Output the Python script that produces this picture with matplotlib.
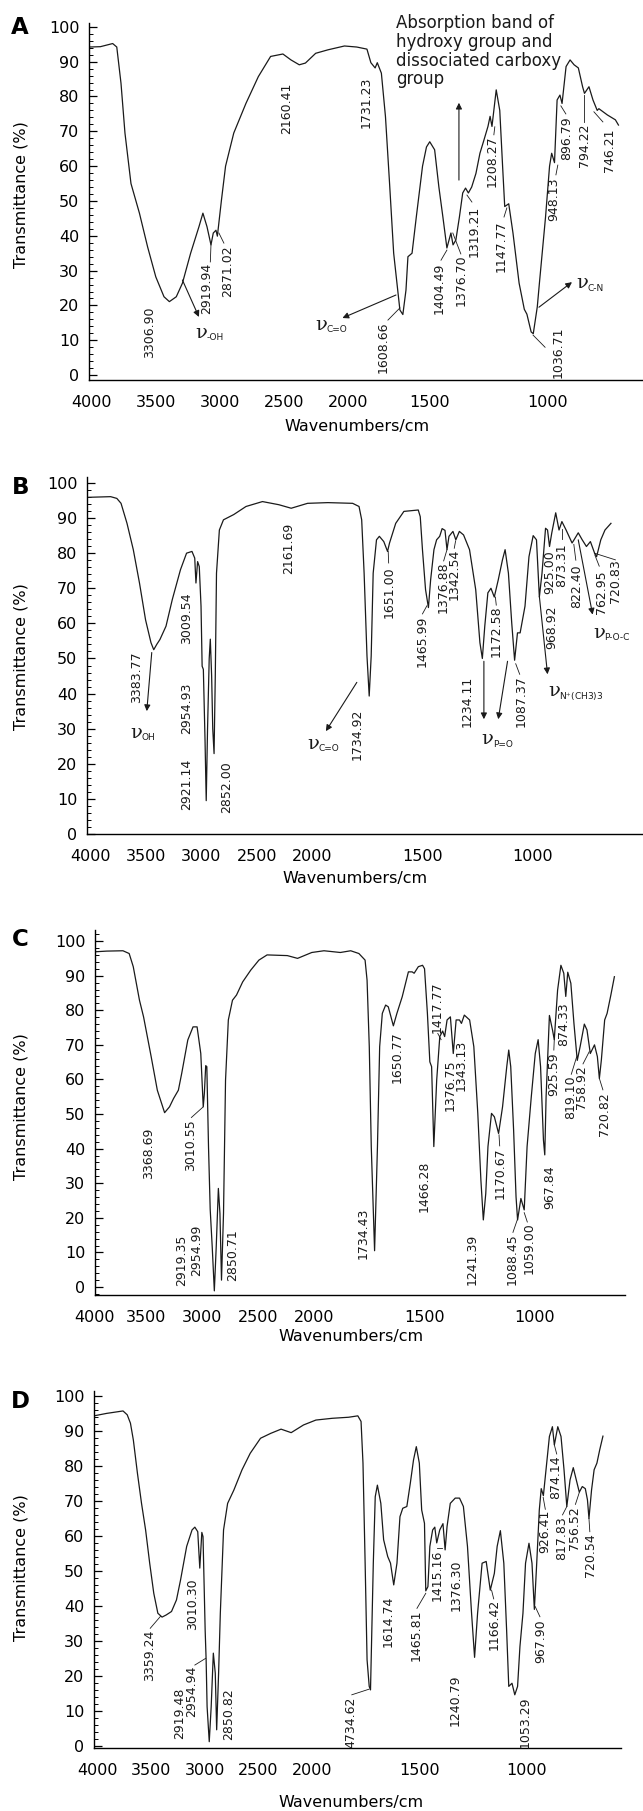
import numpy as np
import matplotlib.pyplot as plt
from matplotlib.ticker import MultipleLocator

plt.rcParams['font.family'] = ['DejaVu Sans']
plt.rcParams['mathtext.fontset'] = 'stix'

W, H = 643, 1811
TICK_WN = [4000, 3500, 3000, 2500, 2000, 1500, 1000]

# ---------------- spectra (wavenumber, transmittance %) ----------------
a_wn = [4023, 3934, 3838, 3806, 3773, 3742, 3695, 3629, 3565, 3501, 3437, 3395, 3341, 3293,
        3229, 3164, 3133, 3101, 3070, 3052, 3031, 3020, 2988, 2956, 2892, 2797, 2700, 2604,
        2508, 2445, 2380, 2332, 2252, 2156, 2027, 1946, 1884, 1860, 1834, 1821, 1796, 1771,
        1746, 1721, 1701, 1683, 1665, 1646, 1634, 1609, 1583, 1545, 1521, 1501, 1480, 1462,
        1445, 1428, 1411, 1402, 1390, 1375, 1361, 1349, 1337, 1323, 1305, 1288, 1271, 1254,
        1245, 1237, 1219, 1204, 1192, 1183, 1166, 1148, 1122, 1100, 1089, 1071, 1062, 1045,
        1036, 1010, 993, 984, 972, 961, 949, 940, 923, 906, 889, 871, 853, 845, 826, 809,
        791, 784, 748, 714, 701]
a_t = [94.2, 94.3, 95.2, 94.2, 83.8, 69.5, 55.0, 46.5, 36.8, 28.2, 22.5, 21.1, 22.5, 26.4,
       35.0, 42.6, 46.5, 42.6, 37.4, 40.8, 41.6, 39.9, 50.3, 60.0, 69.5, 78.0, 85.7, 91.5,
       92.2, 90.5, 89.1, 89.6, 92.4, 93.4, 94.5, 94.2, 93.6, 89.7, 88.2, 89.7, 86.7, 74.2,
       55.0, 35.0, 26.4, 18.7, 17.4, 24.4, 34.0, 35.0, 45.4, 60.0, 65.5, 67.0, 64.7, 54.0,
       45.4, 36.5, 40.8, 37.4, 38.8, 45.4, 52.3, 53.7, 52.3, 54.0, 57.9, 63.7, 67.5, 71.4,
       74.3, 71.4, 81.9, 76.0, 60.0, 48.4, 49.2, 40.8, 26.4, 18.9, 17.5, 12.4, 11.9, 19.6,
       26.4, 45.4, 60.0, 63.7, 61.0, 79.0, 80.4, 78.0, 88.6, 90.5, 89.1, 88.2, 82.8, 80.9,
       82.8, 79.0, 76.0, 76.5, 74.7, 73.3, 71.8]

b_wn = [4036, 3822, 3766, 3728, 3674, 3617, 3561, 3506, 3457, 3432, 3405, 3376, 3321, 3264,
        3190, 3135, 3086, 3061, 3050, 3035, 3020, 3004, 2994, 2983, 2968, 2957, 2945, 2930,
        2920, 2908, 2898, 2886, 2875, 2864, 2838, 2801, 2708, 2597, 2448, 2299, 2188, 2040,
        1928, 1816, 1787, 1775, 1764, 1751, 1741, 1732, 1723, 1708, 1695, 1675, 1658, 1649,
        1621, 1584, 1519, 1510, 1500, 1486, 1473, 1463, 1448, 1436, 1422, 1411, 1398, 1389,
        1380, 1362, 1349, 1333, 1314, 1287, 1259, 1240, 1229, 1218, 1204, 1190, 1175, 1157,
        1138, 1126, 1111, 1096, 1083, 1070, 1058, 1036, 1018, 999, 984, 971, 959, 943, 934,
        925, 915, 897, 882, 869, 850, 823, 814, 795, 777, 758, 740, 721, 712, 693, 674, 647]
b_t = [95.9, 96.1, 95.6, 94.2, 88.5, 81.0, 71.5, 61.0, 54.5, 52.5, 54.0, 55.4, 59.2, 66.8,
       75.3, 80.0, 80.5, 78.6, 71.5, 77.6, 76.2, 64.9, 47.8, 46.9, 27.0, 9.5, 30.0, 50.0,
       55.5, 45.0, 30.0, 22.9, 45.0, 74.3, 86.6, 89.5, 91.0, 93.3, 94.7, 93.8, 92.8, 94.2,
       94.4, 94.2, 93.3, 89.5, 74.3, 50.7, 39.3, 50.7, 74.3, 83.8, 84.8, 83.3, 80.5, 82.9,
       88.5, 91.9, 92.3, 90.4, 81.0, 69.6, 64.5, 72.4, 81.0, 83.8, 84.8, 87.0, 86.5, 81.0,
       84.8, 86.2, 83.8, 86.2, 85.2, 81.0, 69.6, 54.5, 50.0, 59.2, 68.7, 70.0, 67.5, 72.4,
       78.1, 81.0, 74.3, 60.1, 49.5, 57.3, 57.3, 64.9, 79.0, 85.0, 83.8, 67.5, 74.3, 87.1,
       86.6, 81.9, 85.7, 91.5, 86.6, 89.0, 86.6, 82.9, 83.8, 85.8, 83.8, 81.9, 83.3, 80.0,
       79.0, 83.8, 86.6, 88.5]

c_wn = [4000, 3886, 3726, 3665, 3625, 3564, 3524, 3454, 3399, 3334, 3290, 3254, 3211, 3181,
        3127, 3080, 3044, 3011, 2989, 2979, 2967, 2957, 2942, 2927, 2909, 2890, 2873, 2854,
        2840, 2826, 2808, 2790, 2765, 2728, 2692, 2637, 2565, 2492, 2419, 2238, 2147, 2020,
        1955, 1881, 1834, 1797, 1769, 1760, 1750, 1741, 1732, 1726, 1713, 1703, 1691, 1676,
        1664, 1641, 1625, 1601, 1573, 1556, 1547, 1528, 1509, 1500, 1487, 1476, 1468, 1458,
        1445, 1431, 1418, 1409, 1398, 1383, 1370, 1357, 1342, 1333, 1320, 1296, 1277, 1259,
        1245, 1234, 1223, 1213, 1197, 1184, 1165, 1147, 1128, 1119, 1110, 1097, 1086, 1079,
        1064, 1049, 1036, 1017, 999, 986, 975, 962, 956, 950, 935, 921, 913, 898, 883, 870,
        861, 852, 838, 824, 809, 796, 777, 765, 750, 731, 718, 709, 700, 685, 674, 657, 641]
c_t = [96.9, 97.1, 97.2, 96.4, 92.6, 82.9, 78.1, 66.6, 56.9, 50.4, 52.1, 54.5, 56.9, 61.8,
       71.4, 75.2, 75.2, 67.5, 52.1, 56.0, 64.0, 63.7, 40.6, 22.5, 11.7, -1.1, 11.7, 28.5,
       21.3, 2.0, 21.3, 59.8, 77.2, 82.9, 84.4, 88.2, 91.6, 94.5, 96.0, 95.8, 95.0, 96.7,
       97.2, 96.7, 97.2, 96.4, 94.5, 88.7, 69.5, 40.6, 22.3, 10.5, 40.6, 69.5, 79.1, 81.5,
       81.0, 75.5, 79.1, 83.9, 91.1, 91.1, 90.7, 92.6, 93.0, 92.0, 79.1, 65.1, 63.7, 40.6,
       59.8, 72.4, 74.0, 72.4, 77.2, 78.1, 67.5, 77.2, 77.2, 76.2, 78.6, 77.2, 69.5, 50.2,
       30.9, 19.4, 27.0, 40.6, 50.2, 49.2, 44.4, 52.1, 63.7, 68.5, 63.7, 45.4, 26.1, 19.4,
       25.6, 22.3, 40.6, 55.0, 67.5, 71.5, 63.7, 42.5, 38.2, 55.0, 78.5, 74.3, 71.5, 85.8,
       93.0, 90.7, 84.0, 91.0, 87.8, 76.2, 65.5, 69.5, 76.0, 74.3, 67.5, 70.0, 66.6, 60.3,
       65.6, 77.2, 79.1, 84.4, 89.7]

d_wn = [4028, 3911, 3758, 3719, 3689, 3662, 3624, 3586, 3548, 3510, 3472, 3434, 3395, 3357,
        3307, 3261, 3223, 3166, 3116, 3090, 3063, 3044, 3025, 3014, 2994, 2985, 2976, 2956,
        2938, 2918, 2900, 2887, 2869, 2853, 2823, 2785, 2727, 2651, 2575, 2479, 2384, 2288,
        2194, 2079, 1982, 1906, 1830, 1787, 1772, 1763, 1753, 1744, 1734, 1728, 1715, 1706,
        1696, 1680, 1667, 1648, 1635, 1620, 1605, 1591, 1578, 1559, 1543, 1528, 1515, 1501,
        1490, 1477, 1471, 1461, 1452, 1439, 1429, 1420, 1406, 1391, 1381, 1372, 1357, 1334,
        1314, 1296, 1277, 1258, 1244, 1230, 1209, 1190, 1171, 1152, 1139, 1124, 1108, 1095,
        1085, 1070, 1057, 1044, 1033, 1019, 1007, 991, 977, 966, 955, 943, 934, 924, 915,
        896, 882, 873, 857, 842, 828, 815, 800, 785, 771, 757, 743, 729, 719, 712, 700, 688,
        675, 662, 647]
d_t = [94.3, 95.0, 95.7, 94.6, 92.2, 87.4, 77.9, 69.3, 61.7, 52.2, 43.6, 37.9, 36.8, 37.4,
       38.4, 41.7, 47.4, 57.0, 61.7, 62.5, 61.2, 50.8, 61.0, 59.8, 33.0, 24.6, 11.2, 1.2,
       11.2, 26.5, 20.8, 4.6, 20.8, 37.9, 61.7, 69.3, 73.1, 78.9, 83.6, 87.9, 89.3, 90.5,
       89.5, 91.7, 93.1, 93.6, 93.9, 94.3, 92.7, 80.8, 52.2, 24.6, 17.0, 16.0, 52.2, 71.2,
       74.5, 69.3, 58.9, 54.1, 52.2, 46.0, 52.2, 65.5, 67.9, 68.4, 75.0, 81.7, 85.5, 80.8,
       67.4, 63.6, 44.3, 45.5, 57.0, 61.7, 62.5, 58.0, 61.7, 63.5, 56.0, 62.7, 69.3, 70.8,
       70.8, 68.4, 57.0, 37.9, 25.3, 37.9, 52.2, 52.7, 44.5, 49.3, 57.0, 61.5, 52.2, 33.1,
       17.0, 17.9, 14.6, 17.0, 28.4, 37.9, 52.2, 57.9, 52.2, 39.0, 52.2, 67.4, 73.5, 71.5,
       77.0, 88.4, 91.2, 86.0, 91.2, 88.4, 78.9, 68.4, 76.0, 79.5, 76.0, 72.5, 74.1, 73.5,
       70.3, 65.0, 73.1, 78.9, 80.8, 84.6, 88.5]

# ---------------- peak labels: (text, wavenumber, transmittance) ----------------
a_peaks = [('3306.90', 3547, 12.4), ('2919.94', 3102, 25.0), ('2871.02', 2938, 29.9),
           ('2160.41', 2477, 76.7), ('1731.23', 1890, 78.2), ('1608.66', 1783, 8.0),
           ('1404.49', 1462, 25.0), ('1376.70', 1369, 27.3), ('1319.21', 1314, 41.4),
           ('1208.27', 1237, 61.5), ('1147.77', 1199, 37.0), ('1036.71', 957, 6.6),
           ('948.13', 975, 50.6), ('896.79', 920, 68.1), ('794.22', 843, 66.1),
           ('746.21', 737, 64.7)]
b_peaks = [('2161.69', 2208, 81.5), ('3383.77', 3587, 44.6), ('3009.54', 3135, 61.4),
           ('2954.93', 3135, 35.8), ('2921.14', 3135, 14.2), ('2852.00', 2771, 13.4),
           ('1734.92', 1797, 28.4), ('1651.00', 1649, 69.0), ('1465.99', 1500, 54.8),
           ('1376.88', 1404, 70.2), ('1342.54', 1356, 73.9), ('1234.11', 1296, 37.8),
           ('1172.58', 1166, 57.7), ('1087.37', 1055, 37.8), ('968.92', 915, 58.8),
           ('925.00', 925, 74.7), ('873.31', 869, 76.7), ('822.40', 804, 70.5),
           ('762.95', 692, 68.8), ('720.83', 628, 71.9)]
c_peaks = [('3368.69', 3480, 38.6), ('3010.55', 3102, 41.0), ('2919.35', 3181, 7.6),
           ('2954.99', 3044, 10.7), ('2850.71', 2728, 9.2), ('1734.43', 1779, 15.5),
           ('1650.77', 1623, 66.6), ('1417.77', 1445, 81.0), ('1466.28', 1500, 29.2),
           ('1376.75', 1383, 58.4), ('1343.13', 1333, 64.2), ('1241.39', 1286, 8.0),
           ('1170.67', 1160, 33.0), ('1088.45', 1105, 8.0), ('1059.00', 1027, 11.2),
           ('967.84', 935, 28.8), ('925.59', 917, 61.6), ('874.33', 870, 76.0),
           ('819.10', 841, 54.8), ('758.92', 789, 57.7), ('720.82', 685, 50.0)]
d_peaks = [('3359.24', 3510, 26.0), ('3010.30', 3109, 40.6), ('2919.48', 3231, 9.3),
           ('2954.94', 3116, 15.5), ('2850.82', 2773, 9.1), ('1614.74', 1648, 35.5),
           ('4734.62', 1820, 6.7), ('1465.81', 1515, 31.7), ('1415.16', 1420, 48.6),
           ('1376.30', 1328, 46.0), ('1240.79', 1334, 13.1), ('1166.42', 1152, 34.6),
           ('1053.29', 1009, 6.7), ('967.90', 937, 30.0), ('926.41', 918, 61.2),
           ('874.14', 866, 76.8), ('817.83', 838, 59.3), ('756.52', 780, 62.2),
           ('720.54', 704, 54.6)]

# leader lines ((wn1, t1), (wn2, t2))
a_leaders = [((3075, 32.5), (3070, 37.4)), ((2969, 37.9), (3008, 40.8)),
             ((1756, 15.8), (1683, 19.3)), ((1453, 33.0), (1428, 35.9)),
             ((1369, 34.8), (1403, 40.8)), ((1322, 49.7), (1343, 51.7)),
             ((1229, 69.0), (1225, 71.3)), ((1186, 45.4), (1174, 48.0)),
             ((1012, 8.0), (1063, 11.5)), ((966, 57.5), (958, 60.3)),
             ((924, 75.0), (945, 77.3)), ((848, 72.7), (848, 80.5)),
             ((767, 72.7), (805, 75.6))]
b_leaders = [((1653, 77.2), (1655, 80.5)), ((1500, 62.7), (1480, 65.0)),
             ((1404, 77.8), (1389, 81.0)), ((1356, 81.4), (1350, 83.5)),
             ((1166, 65.2), (1170, 67.5)), ((1060, 45.5), (1078, 48.5)),
             ((869, 84.0), (869, 87.0)), ((806, 78.0), (815, 82.5)),
             ((700, 76.3), (720, 79.5)), ((722, 80.0), (627, 78.1))]
c_leaders = [((3095, 49.0), (2992, 52.0)), ((1440, 73.3), (1425, 71.5)),
             ((1160, 40.8), (1163, 44.0)), ((1100, 15.8), (1080, 19.5)),
             ((1035, 18.8), (1049, 21.5)), ((915, 68.5), (913, 71.5)),
             ((836, 61.5), (812, 66.5)), ((783, 64.5), (755, 68.0)),
             ((693, 57.0), (709, 60.3))]
d_leaders = [((3505, 33.6), (3410, 37.0)), ((3090, 23.1), (2990, 25.0)),
             ((1815, 14.6), (1735, 16.2)), ((1512, 39.3), (1471, 43.6)),
             ((1420, 56.5), (1395, 56.5)), ((1155, 42.0), (1165, 44.5)),
             ((940, 36.9), (962, 39.8)), ((915, 67.6), (925, 71.0)),
             ((835, 66.0), (815, 68.4)), ((862, 83.4), (873, 86.0)),
             ((775, 69.0), (757, 72.4)), ((708, 61.2), (712, 65.0))]

# arrows (tail, head) and band labels (subscript, wn, t, anchor)
a_arrows = [((3293, 27.3), (3164, 16.7)), ((1707, 23.0), (2043, 16.4)),
            ((1038, 19.5), (898, 26.7)), ((1377, 56.0), (1377, 78.2))]
a_bands = [('-OH', 3094, 12.1, 'center'), ('C=O', 2156, 14.4, 'center'),
           ('C-N', 826, 26.4, 'center')]
b_arrows = [((3450, 51.7), (3495, 35.0)), ((1797, 43.2), (1937, 29.3)),
            ((1222, 49.2), (1222, 32.7)), ((1115, 49.2), (1157, 32.7)),
            ((971, 67.7), (934, 45.5)), ((795, 83.8), (730, 62.5))]
b_bands = [('OH', 3533, 28.9, 'center'), ('C=O', 1964, 25.6, 'center'),
           ('P=O', 1176, 27.0, 'center'), ('N$^{+}$(CH3)3', 932, 40.6, 'left'),
           ('P-O-C', 670, 57.4, 'center')]

a_note = 'Absorption band of\nhydroxy group and\ndissociated carboxy\ngroup'

# ---------------- layout (pixel boxes, tick pixel positions) ----------------
panels = [
    dict(letter='A', wn=a_wn, t=a_t, peaks=a_peaks, leaders=a_leaders, arrows=a_arrows,
         bands=a_bands, px=[92, 156, 220, 284, 348, 430, 548], xlim=(4023, 597),
         ylim=(-1.4, 101.1), box=(89, 23, 643, 380), letter_xy=(19.5, 27),
         ylab_y=195, xlab=(357, 427)),
    dict(letter='B', wn=b_wn, t=b_t, peaks=b_peaks, leaders=b_leaders, arrows=b_arrows,
         bands=b_bands, px=[91, 146.25, 201.5, 256.75, 312, 422.5, 533], xlim=(4036, 502),
         ylim=(0.3, 101.7), box=(87, 477, 643, 834), letter_xy=(20.5, 487),
         ylab_y=657, xlab=(355, 879)),
    dict(letter='C', wn=c_wn, t=c_t, peaks=c_peaks, leaders=c_leaders, arrows=[],
         bands=[], px=[95, 146, 202, 258, 314, 424.5, 535], xlim=(4000, 593),
         ylim=(-2.3, 103.2), box=(95, 930, 625, 1295), letter_xy=(20, 940),
         ylab_y=1107, xlab=(351, 1337)),
    dict(letter='D', wn=d_wn, t=d_t, peaks=d_peaks, leaders=d_leaders, arrows=[],
         bands=[], px=[97, 150.75, 204.5, 258.25, 312, 419.5, 527], xlim=(4028, 563),
         ylim=(-0.6, 101.4), box=(94, 1391, 621, 1748), letter_xy=(20, 1401),
         ylab_y=1568, xlab=(351, 1802)),
]


def wn_scale(tick_px):
    w = np.r_[6000, TICK_WN, 0].astype(float)
    p = np.asarray(tick_px, float)
    p = np.r_[p[0] - (p[1] - p[0]) * 4, p, p[-1] + (p[-1] - p[-2]) * 2]

    def fwd(x):
        return -np.interp(-np.asarray(x, float), -w, p)

    def inv(u):
        return np.interp(-np.asarray(u, float), p, w)
    return fwd, inv


fig = plt.figure(figsize=(W / 100, H / 100), dpi=100)
ink = '#1a1a1a'

for pn in panels:
    x0, y0, x1, y1 = pn['box']
    ax = fig.add_axes([x0 / W, 1 - y1 / H, (x1 - x0) / W, (y1 - y0) / H])
    ax.set_xscale('function', functions=wn_scale(pn['px']))
    ax.plot(pn['wn'], pn['t'], color=ink, lw=0.9)
    ax.set_xlim(*pn['xlim'])
    ax.set_ylim(*pn['ylim'])
    ax.set_xticks(TICK_WN)
    ax.set_xticklabels([str(v) for v in TICK_WN])
    ax.set_yticks(range(0, 101, 10))
    ax.yaxis.set_minor_locator(MultipleLocator(2))
    ax.tick_params(axis='x', length=0, pad=11, labelsize=11.5)
    ax.tick_params(axis='y', which='major', direction='in', length=6, width=0.9,
                   pad=7, labelsize=11.5)
    ax.tick_params(axis='y', which='minor', direction='in', length=3, width=0.7)
    for s in ('top', 'right'):
        ax.spines[s].set_visible(False)
    for s in ('left', 'bottom'):
        ax.spines[s].set_linewidth(1.0)
    ax.patch.set_alpha(0)

    for txt, w, t in pn['peaks']:
        ax.text(w, t, txt, rotation=90, ha='center', va='center', fontsize=9,
                color=ink, clip_on=False)
    for (w1, t1), (w2, t2) in pn['leaders']:
        ax.plot([w1, w2], [t1, t2], color=ink, lw=0.6, clip_on=False)
    for tail, head in pn['arrows']:
        ax.annotate('', xy=head, xytext=tail,
                    arrowprops=dict(arrowstyle='-|>', color=ink, lw=0.8,
                                    mutation_scale=9, shrinkA=0, shrinkB=0))
    for sub, w, t, anchor in pn['bands']:
        dx = -9 if anchor == 'center' else 0
        ax.annotate('ν', xy=(w, t), xytext=(dx, 0), textcoords='offset points',
                    ha='left', va='center', fontsize=14, color=ink,
                    family='DejaVu Serif')
        ax.annotate(sub, xy=(w, t), xytext=(dx + 8, -3.5), textcoords='offset points',
                    ha='left', va='center', fontsize=6.5, color=ink)

    if pn['letter'] == 'A':
        ax.text(1707, 103.6, a_note, ha='left', va='top', fontsize=12,
                linespacing=1.05, color=ink, clip_on=False)

    lx, ly = pn['letter_xy']
    fig.text(lx / W, 1 - ly / H, pn['letter'], ha='center', va='center',
             fontsize=16.5, fontweight='bold')
    fig.text(20.5 / W, 1 - pn['ylab_y'] / H, 'Transmittance (%)', rotation=90,
             ha='center', va='center', fontsize=11.5)
    fig.text(pn['xlab'][0] / W, 1 - pn['xlab'][1] / H, 'Wavenumbers/cm',
             ha='center', va='center', fontsize=11.5)

fig.savefig('out.png', dpi=100)
